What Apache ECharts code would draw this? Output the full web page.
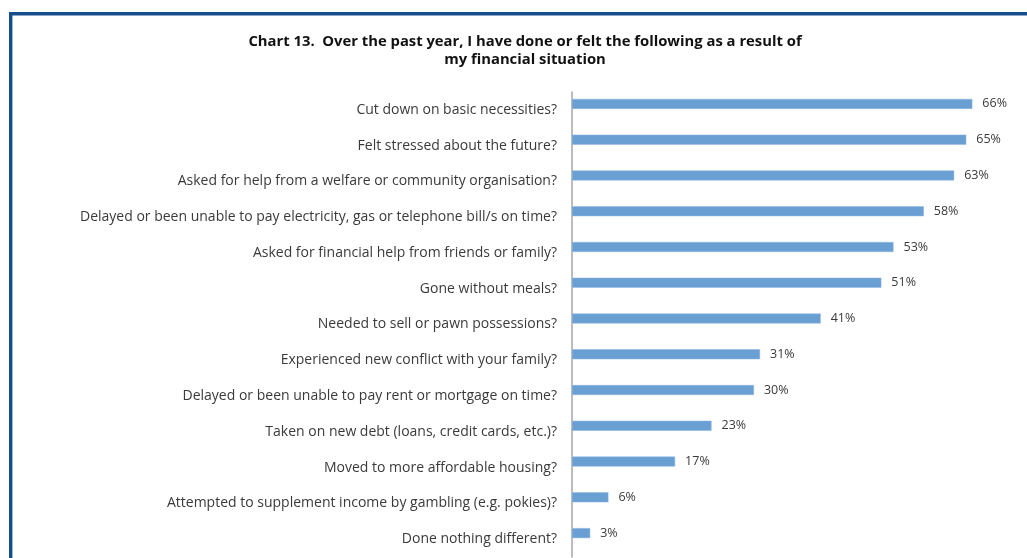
<!DOCTYPE html>
<html>
<head>
<meta charset="utf-8">
<script src="https://cdn.jsdelivr.net/npm/echarts@6/dist/echarts.min.js"></script>
<style>
  html, body { margin: 0; padding: 0; background: #ffffff; }
  #chart { width: 1027px; height: 558px; }
</style>
</head>
<body>
<div id="chart"></div>
<script>
// Survey responses, top to bottom
const categories = [
  'Cut down on basic necessities?',
  'Felt stressed about the future?',
  'Asked for help from a welfare or community organisation?',
  'Delayed or been unable to pay electricity, gas or telephone bill/s on time?',
  'Asked for financial help from friends or family?',
  'Gone without meals?',
  'Needed to sell or pawn possessions?',
  'Experienced new conflict with your family?',
  'Delayed or been unable to pay rent or mortgage on time?',
  'Taken on new debt (loans, credit cards, etc.)?',
  'Moved to more affordable housing?',
  'Attempted to supplement income by gambling (e.g. pokies)?',
  'Done nothing different?'
];
const percentages = [66, 65, 63, 58, 53, 51, 41, 31, 30, 23, 17, 6, 3];

const titleText = 'Chart 13.  Over the past year, I have done or felt the following as a result of\nmy financial situation';

const chart = echarts.init(document.getElementById('chart'));
const FONT = '"Open Sans", sans-serif';

chart.setOption({
  animation: false,
  backgroundColor: '#ffffff',
  title: {
    text: titleText,
    left: 520,
    textAlign: 'center',
    top: 28,
    textStyle: {
      fontFamily: FONT,
      fontSize: 14.8,
      fontWeight: 'bold',
      color: '#111111',
      lineHeight: 18
    }
  },
  graphic: [{
    type: 'rect',
    silent: true,
    shape: { x: 10.7, y: 13.7, width: 1100, height: 600 },
    style: { fill: 'none', stroke: '#164e8b', lineWidth: 3.4 }
  }],
  grid: [
    // bars
    { left: 572, top: 86, width: 424.6, height: 465 },
    // category axis with its labels
    { left: 572, top: 92, width: 424.6, height: 465 }
  ],
  xAxis: [
    { gridIndex: 0, type: 'value', min: 0, max: 70, show: false },
    { gridIndex: 1, type: 'value', min: 0, max: 70, show: false }
  ],
  yAxis: [
    {
      gridIndex: 0, type: 'category', data: categories, inverse: true,
      axisLine: { show: false }, axisTick: { show: false }, axisLabel: { show: false }
    },
    {
      gridIndex: 1, type: 'category', data: categories, inverse: true,
      axisLine: { show: true, lineStyle: { color: '#a6a6a6', width: 1.5 } },
      axisTick: { show: false },
      axisLabel: {
        margin: 15,
        fontFamily: FONT,
        fontSize: 14,
        color: '#3a3a3a'
      }
    }
  ],
  series: [{
    type: 'bar',
    xAxisIndex: 0,
    yAxisIndex: 0,
    data: percentages,
    barWidth: 10,
    itemStyle: { color: '#6a9fd4', borderColor: '#8db6e0', borderWidth: 0.5 },
    label: {
      show: true,
      position: 'right',
      distance: 10,
      formatter: p => p.value + '%',
      fontFamily: FONT,
      fontSize: 12.5,
      color: '#3a3a3a'
    }
  }]
});
</script>
</body>
</html>
